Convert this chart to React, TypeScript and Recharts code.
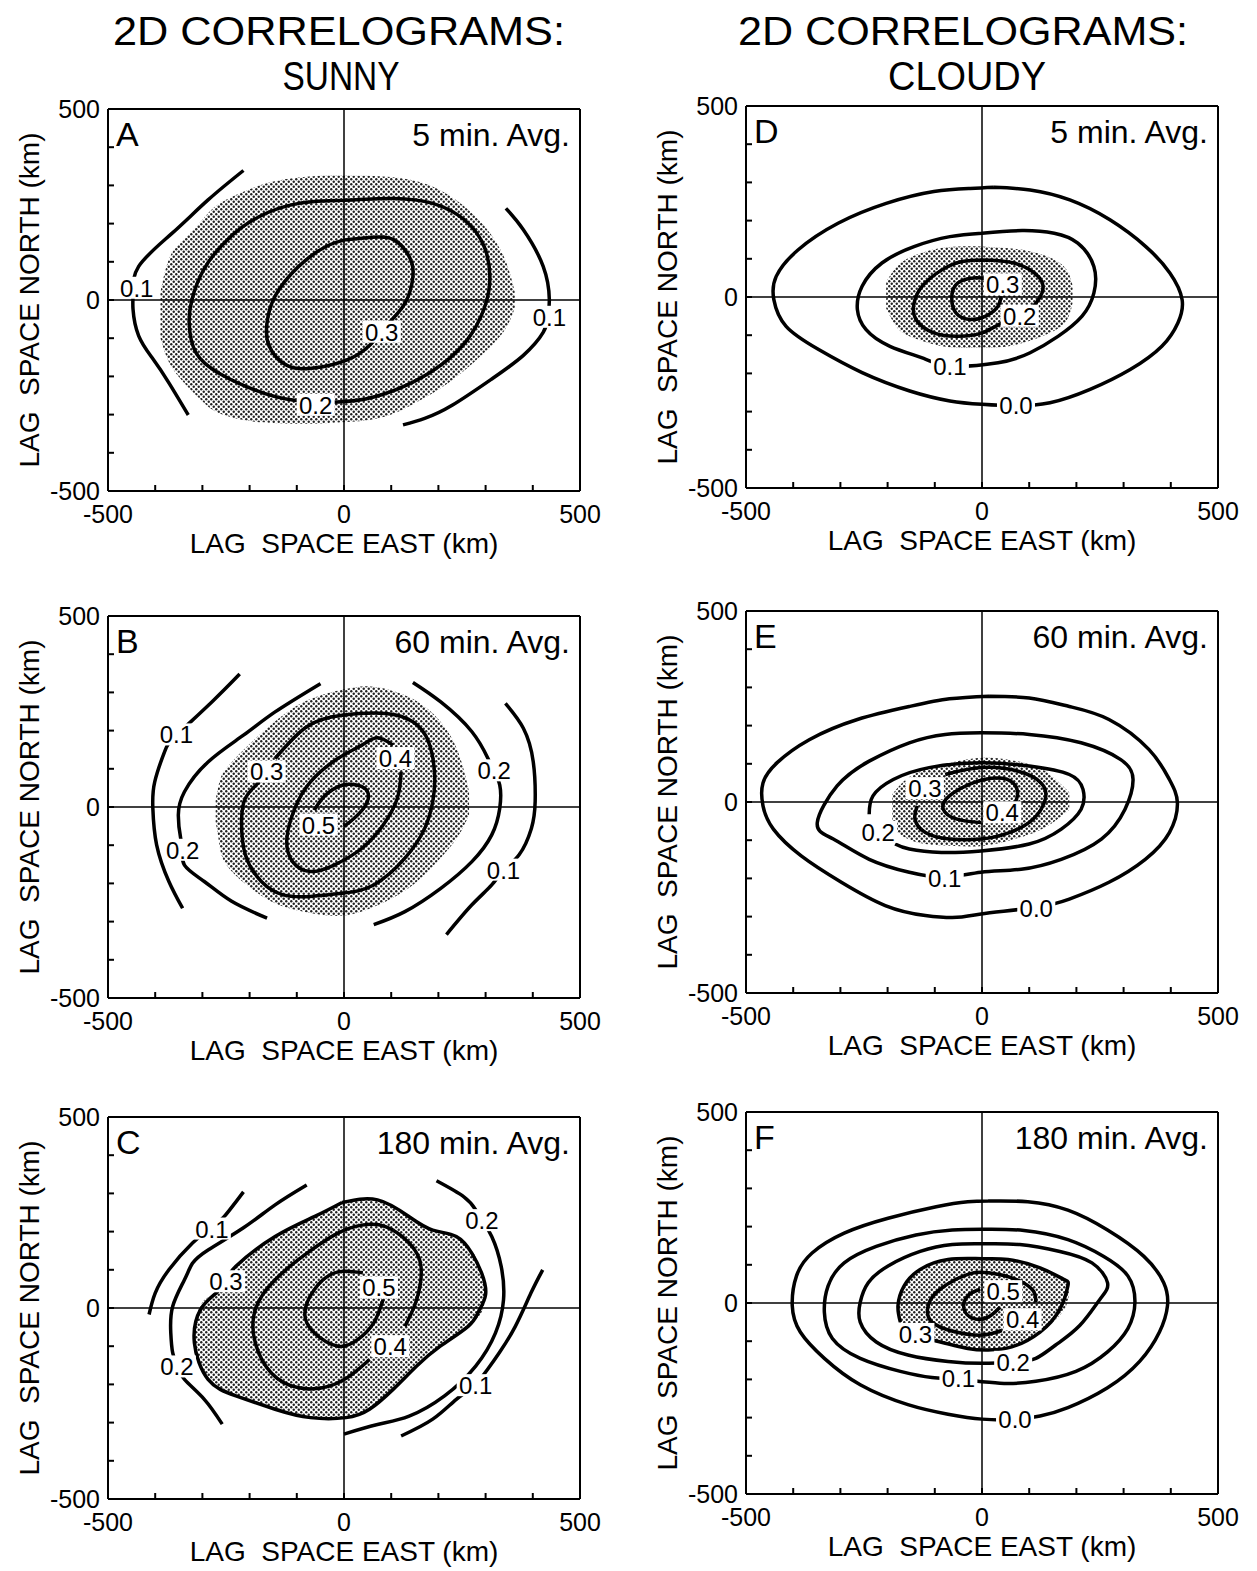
import React from "react";
import { ComposedChart, Area, Line, XAxis, YAxis, ReferenceLine, ReferenceDot } from "recharts";

type Pt = [number, number];
type Lbl = { x: number; y: number; text: string };

const FONT = '"Liberation Sans", Arial, Helvetica, sans-serif';
const TICKS = [-500, -400, -300, -200, -100, 0, 100, 200, 300, 400, 500];
const TICK_LABELS = [-500, 0, 500];

// ---- panel A: sunny, 5 min ----
const A_SHADE_X = [-389, -370, -340, -300, -263, -200, -150, -100, -50, 0, 50, 100, 150, 200, 250, 300, 340, 362];
const A_SHADE_LO = [-100, -165, -215, -265, -297, -317, -322, -324, -323, -320, -315, -300, -270, -235, -190, -135, -80, -20];
const A_SHADE_HI = [20, 110, 158, 210, 253, 290, 310, 320, 325, 326, 325, 322, 312, 290, 250, 190, 110, 20];
const A_L01_LEFT: Pt[] = [[-213, 339], [-288, 262], [-364, 175], [-435, 88], [-447, 20], [-447, -24], [-435, -94], [-405, -154], [-372, -215], [-330, -301]];
const A_L01_RIGHT: Pt[] = [[343, 240], [380, 184], [422, 88], [435, 2], [432, -45], [422, -85], [380, -145], [314, -206], [230, -275], [171, -310], [125, -327]];
const A_L02: Pt[] = [[0, 261], [105, 266], [188, 253], [255, 210], [297, 140], [309, 62], [301, -7], [272, -85], [222, -154], [146, -215], [63, -254], [-13, -267], [-109, -262], [-188, -236], [-263, -193], [-314, -137], [-328, -59], [-322, 2], [-297, 80], [-247, 158], [-180, 218], [-96, 253], [0, 261]];
const A_L03: Pt[] = [[4, 158], [60, 164], [105, 158], [138, 114], [146, 62], [130, -7], [96, -59], [54, -119], [4, -158], [-63, -178], [-121, -171], [-159, -119], [-163, -59], [-146, 10], [-96, 88], [-38, 140], [4, 158]];
const A_LABELS: Lbl[] = [
  { x: -439, y: 32, text: "0.1" },
  { x: 435, y: -44, text: "0.1" },
  { x: -60, y: -274, text: "0.2" },
  { x: 80, y: -83, text: "0.3" },
];

// ---- panel B: sunny, 60 min ----
const B_SHADE_X = [-272, -265, -250, -200, -150, -100, -50, 0, 50, 100, 150, 200, 240, 265];
const B_SHADE_LO = [-40, -90, -150, -210, -250, -270, -282, -284, -268, -240, -200, -140, -80, -20];
const B_SHADE_HI = [20, 60, 100, 165, 220, 265, 292, 308, 316, 305, 280, 230, 150, 40];
const B_L01_LEFT: Pt[] = [[-221, 348], [-280, 275], [-355, 188], [-380, 145], [-401, 66], [-405, -3], [-397, -99], [-371, -195], [-342, -265]];
const B_L02_LEFT: Pt[] = [[-50, 323], [-146, 249], [-213, 188], [-288, 118], [-338, 40], [-351, -21], [-346, -82], [-342, -112], [-338, -152], [-296, -195], [-238, -247], [-163, -291]];
const B_L02_RIGHT: Pt[] = [[146, 326], [205, 275], [271, 197], [305, 127], [317, 97], [330, 57], [330, -3], [313, -73], [271, -143], [205, -213], [129, -274], [63, -308]];
const B_L01_RIGHT: Pt[] = [[342, 271], [380, 206], [401, 118], [405, 14], [397, -56], [371, -125], [338, -165], [313, -204], [271, -256], [217, -334]];
const B_L03: Pt[] = [[-146, 127], [-79, 210], [-4, 240], [88, 245], [146, 223], [179, 171], [192, 84], [188, 14], [171, -56], [129, -134], [63, -204], [-4, -226], [-71, -234], [-129, -230], [-175, -195], [-209, -125], [-217, -38], [-209, 23], [-179, 66]];
const B_L04: Pt[] = [[104, 162], [71, 181], [38, 162], [-13, 127], [-71, 66], [-104, -3], [-121, -82], [-109, -143], [-71, -169], [-21, -152], [38, -108], [83, -47], [113, 23], [121, 92]];
const B_L05: Pt[] = [[-63, -8], [-40, 30], [-4, 57], [29, 57], [50, 40], [46, 5], [21, -30], [0, -51]];
const B_LABELS: Lbl[] = [
  { x: -355, y: 190, text: "0.1" },
  { x: -342, y: -112, text: "0.2" },
  { x: -164, y: 93, text: "0.3" },
  { x: 109, y: 128, text: "0.4" },
  { x: -54, y: -46, text: "0.5" },
  { x: 318, y: 96, text: "0.2" },
  { x: 338, y: -164, text: "0.1" },
];

// ---- panel C: sunny, 180 min ----
const C_SHADE_X = [-317, -300, -271, -229, -200, -146, -100, -63, -13, 20, 71, 104, 138, 154, 188, 204, 238, 263, 275, 292, 300];
const C_SHADE_LO = [-90, -165, -205, -230, -245, -265, -280, -287, -288, -282, -250, -213, -172, -152, -117, -100, -72, -48, -38, -10, 30];
const C_SHADE_HI = [-40, 15, 45, 109, 140, 187, 215, 239, 270, 280, 283, 262, 239, 228, 204, 198, 187, 160, 143, 90, 40];
const C_L01_LEFT: Pt[] = [[-213, 304], [-254, 239], [-279, 213], [-321, 170], [-371, 100], [-400, 39], [-413, -17]];
const C_L02_LEFT: Pt[] = [[-79, 322], [-146, 270], [-213, 210], [-288, 152], [-321, 117], [-338, 74], [-363, 4], [-367, -65], [-363, -117], [-354, -152], [-338, -187], [-296, -239], [-258, -304]];
const C_L02_RIGHT: Pt[] = [[196, 333], [254, 291], [279, 257], [292, 230], [313, 187], [333, 109], [338, 22], [321, -65], [279, -152], [213, -230], [138, -283], [71, -305], [0, -330]];
const C_L01_RIGHT: Pt[] = [[421, 100], [396, 39], [363, -48], [329, -117], [304, -161], [275, -204], [238, -239], [188, -291], [121, -335]];
const C_L03: Pt[] = [[-4, 276], [71, 283], [138, 239], [188, 204], [238, 187], [271, 143], [292, 90], [300, 35], [285, -10], [263, -48], [204, -100], [154, -152], [104, -213], [54, -265], [4, -287], [-71, -287], [-146, -265], [-229, -230], [-288, -187], [-317, -91], [-304, -4], [-271, 39], [-254, 65], [-229, 109], [-146, 187], [-63, 239], [-4, 276]];
const C_L04: Pt[] = [[129, -48], [154, 22], [163, 109], [138, 170], [88, 213], [38, 217], [-13, 196], [-79, 143], [-146, 74], [-188, -4], [-188, -91], [-154, -170], [-96, -209], [-29, -204], [21, -170], [54, -135]];
const C_L05: Pt[] = [[40, 92], [4, 96], [-29, 87], [-63, 48], [-83, -13], [-63, -65], [-13, -100], [29, -83], [63, -39], [83, 22]];
const C_LABELS: Lbl[] = [
  { x: -280, y: 208, text: "0.1" },
  { x: -250, y: 70, text: "0.3" },
  { x: -354, y: -153, text: "0.2" },
  { x: 74, y: 54, text: "0.5" },
  { x: 98, y: -100, text: "0.4" },
  { x: 292, y: 230, text: "0.2" },
  { x: 279, y: -202, text: "0.1" },
];

// ---- panel D: cloudy, 5 min ----
const D_SHADE_X = [-203, -180, -150, -100, -50, 0, 50, 100, 150, 180, 192];
const D_SHADE_LO = [-30, -80, -105, -125, -133, -133, -130, -115, -90, -60, -15];
const D_SHADE_HI = [40, 80, 105, 125, 132, 132, 128, 120, 100, 70, 30];
const D_L00: Pt[] = [[25, 287], [102, 280], [186, 254], [271, 202], [347, 132], [398, 63], [424, -7], [415, -68], [381, -129], [314, -190], [229, -242], [144, -277], [68, -285], [0, -281], [-68, -272], [-153, -246], [-254, -198], [-347, -137], [-415, -77], [-441, -7], [-436, 54], [-390, 123], [-305, 193], [-203, 245], [-102, 276], [-25, 284], [25, 287]];
const D_L01: Pt[] = [[0, 167], [85, 174], [153, 167], [203, 141], [237, 80], [237, 10], [212, -50], [161, -103], [102, -146], [34, -172], [-68, -181], [-119, -163], [-195, -129], [-246, -85], [-264, -33], [-254, 28], [-212, 89], [-144, 132], [-68, 158], [0, 167]];
const D_L02: Pt[] = [[0, 97], [68, 89], [119, 54], [127, 10], [102, -33], [80, -50], [42, -68], [0, -94], [-51, -103], [-102, -94], [-140, -59], [-144, -16], [-127, 28], [-85, 71], [-42, 93], [0, 97]];
const D_L03: Pt[] = [[13, 47], [-17, 50], [-51, 37], [-64, 2], [-55, -42], [-25, -59], [8, -50], [34, -24], [40, 2]];
const D_LABELS: Lbl[] = [
  { x: 44, y: 33, text: "0.3" },
  { x: 80, y: -49, text: "0.2" },
  { x: -68, y: -180, text: "0.1" },
  { x: 72, y: -284, text: "0.0" },
];

// ---- panel E: cloudy, 60 min ----
const E_SHADE_X = [-190, -160, -120, -60, 0, 60, 120, 160, 185];
const E_SHADE_LO = [-70, -95, -110, -115, -115, -100, -75, -45, -20];
const E_SHADE_HI = [20, 60, 85, 105, 116, 110, 90, 55, 25];
const E_L00: Pt[] = [[15, 277], [100, 272], [185, 250], [269, 216], [354, 137], [397, 59], [414, -2], [397, -80], [346, -150], [269, -210], [185, -254], [113, -276], [-2, -293], [-53, -302], [-120, -297], [-205, -271], [-298, -210], [-383, -141], [-442, -71], [-464, -10], [-464, 50], [-434, 103], [-366, 163], [-264, 216], [-154, 250], [-69, 270], [15, 277]];
const E_L01: Pt[] = [[-2, 181], [100, 177], [210, 155], [294, 111], [320, 59], [303, -19], [253, -97], [168, -150], [83, -176], [-2, -184], [-78, -197], [-154, -184], [-239, -150], [-315, -97], [-349, -54], [-307, 42], [-239, 107], [-154, 155], [-78, 177], [-2, 181]];
const E_L02: Pt[] = [[-239, -32], [-231, 16], [-188, 59], [-112, 90], [-2, 103], [100, 94], [185, 72], [214, 33], [210, -19], [168, -71], [100, -110], [-2, -128], [-86, -132], [-154, -123], [-184, -110]];
const E_L03: Pt[] = [[-78, 72], [-2, 90], [75, 81], [125, 50], [134, 7], [108, -45], [58, -80], [-2, -97], [-69, -97], [-120, -80], [-142, -45], [-137, -10]];
const E_L04: Pt[] = [[-2, -54], [-53, -45], [-82, -19], [-69, 16], [-19, 50], [32, 63], [66, 50], [75, 16], [62, -19]];
const E_LABELS: Lbl[] = [
  { x: -121, y: 36, text: "0.3" },
  { x: 43, y: -27, text: "0.4" },
  { x: -220, y: -78, text: "0.2" },
  { x: -79, y: -198, text: "0.1" },
  { x: 115, y: -277, text: "0.0" },
];

// ---- panel F: cloudy, 180 min ----
const F_SHADE_X = [-178, -165, -131, -100, -72, -30, 0, 55, 100, 140, 173, 184];
const F_SHADE_LO = [-40, -65, -85, -100, -110, -119, -122, -117, -95, -60, -20, 20];
const F_SHADE_HI = [10, 45, 88, 100, 114, 116, 116, 114, 100, 80, 62, 45];
const F_L00: Pt[] = [[13, 267], [97, 265], [182, 243], [266, 191], [343, 122], [385, 53], [393, -7], [376, -76], [334, -153], [266, -222], [182, -274], [123, -296], [68, -305], [0, -304], [-72, -291], [-157, -266], [-258, -214], [-334, -145], [-385, -76], [-402, -7], [-393, 71], [-360, 131], [-292, 183], [-199, 222], [-97, 252], [-30, 265], [13, 267]];
const F_L01: Pt[] = [[0, 193], [89, 190], [182, 166], [258, 122], [309, 71], [324, 2], [309, -67], [266, -128], [199, -179], [114, -205], [38, -210], [-47, -200], [-106, -195], [-173, -179], [-258, -145], [-317, -93], [-334, -24], [-326, 45], [-292, 105], [-224, 148], [-140, 178], [-63, 191], [0, 193]];
const F_L02: Pt[] = [[0, 155], [80, 153], [165, 135], [233, 105], [266, 53], [250, 10], [207, -59], [156, -110], [114, -145], [68, -155], [0, -158], [-72, -153], [-157, -136], [-224, -102], [-258, -50], [-258, 2], [-241, 53], [-199, 97], [-131, 135], [-63, 153], [0, 155]];
const F_L03: Pt[] = [[-106, -97], [-30, -119], [13, -123], [63, -115], [123, -76], [165, -16], [182, 45], [173, 62], [123, 92], [55, 114], [0, 116], [-72, 114], [-131, 88], [-165, 45], [-178, -7], [-173, -50]];
const F_L04: Pt[] = [[42, -72], [0, -84], [-55, -76], [-106, -50], [-114, -7], [-89, 36], [-30, 75], [13, 79], [63, 66], [106, 36], [114, 2]];
const F_L05: Pt[] = [[-4, 36], [-30, 19], [-38, -16], [-17, -41], [13, -37], [38, -11]];
const F_LABELS: Lbl[] = [
  { x: 45, y: 31, text: "0.5" },
  { x: 86, y: -43, text: "0.4" },
  { x: -141, y: -81, text: "0.3" },
  { x: 66, y: -154, text: "0.2" },
  { x: -50, y: -196, text: "0.1" },
  { x: 70, y: -303, text: "0.0" },
];

const toRows = (pts: Pt[]) => pts.map(([x, y]) => ({ x, y }));
const toBand = (xs: number[], lo: number[], hi: number[]) => xs.map((x, i) => ({ x, band: [lo[i], hi[i]] }));

const PANELS = [
  { id: "A", avg: "5 min. Avg.", left: 108, top: 109, shade: toBand(A_SHADE_X, A_SHADE_LO, A_SHADE_HI), lines: [A_L01_LEFT, A_L01_RIGHT, A_L02, A_L03], labels: A_LABELS },
  { id: "B", avg: "60 min. Avg.", left: 108, top: 616, shade: toBand(B_SHADE_X, B_SHADE_LO, B_SHADE_HI), lines: [B_L01_LEFT, B_L02_LEFT, B_L02_RIGHT, B_L01_RIGHT, B_L03, B_L04, B_L05], labels: B_LABELS },
  { id: "C", avg: "180 min. Avg.", left: 108, top: 1117, shade: toBand(C_SHADE_X, C_SHADE_LO, C_SHADE_HI), lines: [C_L01_LEFT, C_L02_LEFT, C_L02_RIGHT, C_L01_RIGHT, C_L03, C_L04, C_L05], labels: C_LABELS },
  { id: "D", avg: "5 min. Avg.", left: 746, top: 106, shade: toBand(D_SHADE_X, D_SHADE_LO, D_SHADE_HI), lines: [D_L00, D_L01, D_L02, D_L03], labels: D_LABELS },
  { id: "E", avg: "60 min. Avg.", left: 746, top: 611, shade: toBand(E_SHADE_X, E_SHADE_LO, E_SHADE_HI), lines: [E_L00, E_L01, E_L02, E_L03, E_L04], labels: E_LABELS },
  { id: "F", avg: "180 min. Avg.", left: 746, top: 1112, shade: toBand(F_SHADE_X, F_SHADE_LO, F_SHADE_HI), lines: [F_L00, F_L01, F_L02, F_L03, F_L04, F_L05], labels: F_LABELS },
];

const ML = 20;
const YW = 88;
const MT = 20;
const MR = 34;
const MB = 14;
const XH = 60;
const PW = 472;
const PH = 382;

const fmtTick = (v: number) => (TICK_LABELS.includes(v) ? String(v) : "");

function centerOf(props: any) {
  const vb = props.viewBox || {};
  return { cx: (vb.x ?? 0) + (vb.width ?? 0) / 2, cy: (vb.y ?? 0) + (vb.height ?? 0) / 2 };
}

function ContourLabel(props: any) {
  const { cx, cy } = centerOf(props);
  const w = props.text.length * 12 + 2;
  return (
    <g>
      <rect x={cx - w / 2} y={cy - 11} width={w} height={22} fill="#fff" />
      <text x={cx} y={cy + 9} textAnchor="middle" fontSize={24} fill="#000" fontFamily={FONT}>
        {props.text}
      </text>
    </g>
  );
}

function CornerText(props: any) {
  const { cx, cy } = centerOf(props);
  const right = props.anchor === "end";
  return (
    <text
      x={right ? cx - 10 : cx + 8}
      y={cy + 37}
      textAnchor={right ? "end" : "start"}
      fontSize={right ? 32 : 34}
      fill="#000"
      fontFamily={FONT}
    >
      {props.text}
    </text>
  );
}

function XTitle(props: any) {
  const vb = props.viewBox;
  return (
    <text x={vb.x + vb.width / 2} y={vb.y + 62} textAnchor="middle" fontSize={28} fill="#000" fontFamily={FONT}>
      LAG{"\u00a0 "}SPACE EAST (km)
    </text>
  );
}

function YTitle(props: any) {
  const vb = props.viewBox;
  const x = vb.x + vb.width - 69;
  const y = vb.y + vb.height / 2;
  return (
    <text x={x} y={y} transform={`rotate(-90 ${x} ${y})`} textAnchor="middle" fontSize={28} fill="#000" fontFamily={FONT}>
      LAG{"\u00a0 "}SPACE NORTH (km)
    </text>
  );
}

const axisLine = { stroke: "#000", strokeWidth: 2 };
const tickLine = { stroke: "#000", strokeWidth: 2 };
const tickText = { fill: "#000", fontSize: 25, fontFamily: FONT };

function Panel({ p }: { p: (typeof PANELS)[number] }) {
  const width = ML + YW + PW + 1 + MR;
  const height = MT + 1 + PH + XH + MB;
  const pat = `dots${p.id}`;
  return (
    <div style={{ position: "absolute", left: p.left - ML - YW, top: p.top - MT - 1 }}>
      <ComposedChart width={width} height={height} margin={{ top: MT, right: MR, bottom: MB, left: ML }}>
        <defs>
          <pattern id={pat} width={5} height={5} patternUnits="userSpaceOnUse">
            <rect width={5} height={5} fill="#fff" />
            <circle cx={1.25} cy={1.25} r={1.2} fill="#222" />
            <circle cx={3.75} cy={3.75} r={1.2} fill="#222" />
          </pattern>
        </defs>
        <XAxis
          dataKey="x"
          type="number"
          domain={[-500, 500]}
          allowDataOverflow
          ticks={TICKS}
          interval={0}
          tickFormatter={fmtTick}
          tickSize={-6}
          tickMargin={20}
          height={XH}
          axisLine={axisLine}
          tickLine={tickLine}
          tick={tickText}
          label={<XTitle />}
        />
        <XAxis
          xAxisId="top"
          orientation="top"
          type="number"
          domain={[-500, 500]}
          allowDataOverflow
          ticks={TICKS}
          interval={0}
          tick={false}
          tickSize={-6}
          height={1}
          axisLine={axisLine}
          tickLine={tickLine}
        />
        <YAxis
          type="number"
          domain={[-500, 500]}
          allowDataOverflow
          ticks={TICKS}
          interval={0}
          tickFormatter={fmtTick}
          tickSize={-6}
          tickMargin={14}
          width={YW}
          axisLine={axisLine}
          tickLine={tickLine}
          tick={tickText}
          label={<YTitle />}
        />
        <YAxis
          yAxisId="right"
          orientation="right"
          type="number"
          domain={[-500, 500]}
          allowDataOverflow
          ticks={TICKS}
          interval={0}
          tick={false}
          tickSize={-6}
          width={1}
          axisLine={axisLine}
          tickLine={tickLine}
        />
        <Area
          data={p.shade}
          dataKey="band"
          type="natural"
          stroke="none"
          fill={`url(#${pat})`}
          fillOpacity={1}
          isAnimationActive={false}
          activeDot={false}
        />
        <ReferenceLine x={0} stroke="#000" strokeWidth={1.5} />
        <ReferenceLine y={0} stroke="#000" strokeWidth={1.5} />
        {p.lines.map((pts, i) => (
          <Line
            key={`l${i}`}
            data={toRows(pts)}
            dataKey="y"
            type="natural"
            stroke="#000"
            strokeWidth={3.5}
            dot={false}
            activeDot={false}
            isAnimationActive={false}
          />
        ))}
        {p.labels.map((l, i) => (
          <ReferenceDot key={`t${i}`} x={l.x} y={l.y} r={0} stroke="none" fill="none" label={<ContourLabel text={l.text} />} />
        ))}
        <ReferenceDot x={-500} y={500} r={0} stroke="none" fill="none" label={<CornerText text={p.id} anchor="start" />} />
        <ReferenceDot x={500} y={500} r={0} stroke="none" fill="none" label={<CornerText text={p.avg} anchor="end" />} />
      </ComposedChart>
    </div>
  );
}

function Heading({ cx, line1, w1, line2, cx2, w2 }: { cx: number; line1: string; w1: number; line2: string; cx2: number; w2: number }) {
  return (
    <g>
      <text x={cx} y={45} textAnchor="middle" fontSize={40} fontFamily={FONT} fill="#000" textLength={w1} lengthAdjust="spacingAndGlyphs">
        {line1}
      </text>
      <text x={cx2} y={90} textAnchor="middle" fontSize={40} fontFamily={FONT} fill="#000" textLength={w2} lengthAdjust="spacingAndGlyphs">
        {line2}
      </text>
    </g>
  );
}

export default function App() {
  return (
    <div style={{ position: "absolute", left: 0, top: 0, width: 1257, height: 1571, background: "#fff", overflow: "hidden", fontFamily: FONT }}>
      <svg width={1257} height={100} style={{ position: "absolute", left: 0, top: 0 }}>
        <Heading cx={339} line1="2D CORRELOGRAMS:" w1={452} cx2={341} line2="SUNNY" w2={117} />
        <Heading cx={963} line1="2D CORRELOGRAMS:" w1={450} cx2={967} line2="CLOUDY" w2={158} />
      </svg>
      {PANELS.map((p) => (
        <Panel key={p.id} p={p} />
      ))}
    </div>
  );
}
